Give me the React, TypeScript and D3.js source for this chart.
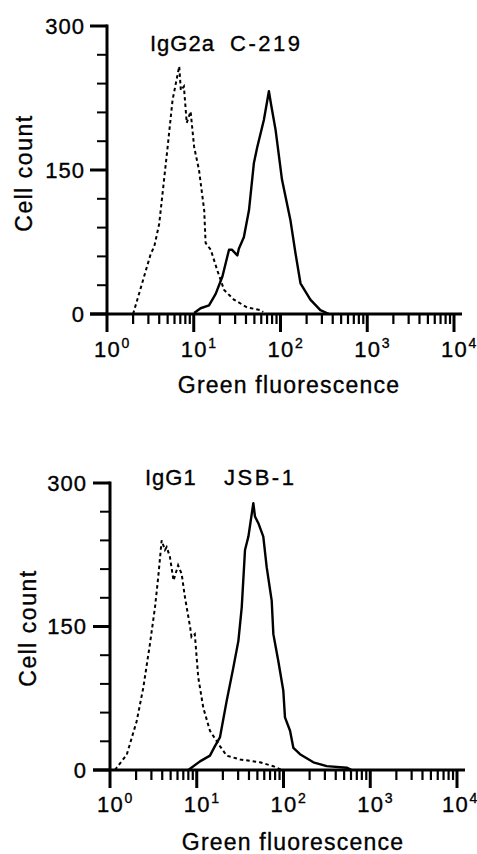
import React from "react";
import * as d3 from "d3";

// Fluorescence values (x) and cell counts (y)
const igg2aX = [2.0, 3.2, 3.5, 4.0, 5.0, 5.7, 6.8, 7.1, 7.7, 8.3, 9.2, 10.1, 11.5, 13.2, 13.7, 15.7, 18.6, 22.4, 29, 41, 59, 63];
const igg2aY = [0, 63, 70, 94, 174, 223, 258, 233, 237, 199, 211, 174, 150, 108, 74, 67, 46, 25, 15, 7, 4, 2];

const c219X = [10.1, 12, 15, 17.9, 21.4, 25.5, 27.5, 31.8, 33.1, 37.8, 43.3, 49.3, 54, 64.3, 73.5, 77.6, 87.7, 104, 130, 149, 170, 221, 288, 363];
const c219Y = [1, 6, 9, 21, 39, 67, 67, 61, 68, 80, 108, 157, 174, 202, 232, 219, 192, 140, 98, 63, 32, 15, 4, 0];

const igg1X = [1.14, 1.56, 2.03, 2.42, 2.89, 3.3, 3.6, 3.94, 4.3, 4.5, 4.9, 5.4, 6.1, 6.7, 7.3, 8.4, 8.7, 9.5, 10.4, 11.9, 14.2, 18.5, 22.1, 31.6, 53.6, 76.2, 95.5];
const igg1Y = [0, 16, 51, 86, 132, 170, 202, 240, 230, 233, 223, 198, 214, 205, 181, 149, 139, 142, 97, 65, 41, 25, 15, 11, 8, 4, 0];

const jsb1X = [8.0, 10.9, 14.2, 16.2, 18.5, 22.1, 26.4, 30.2, 33, 36, 39.4, 44.9, 46.9, 51.3, 58.5, 64, 73.1, 76.4, 87.1, 99.5, 104, 119, 130, 155, 221, 315, 536, 611];
const jsb1Y = [0, 9, 15, 25, 34, 72, 107, 135, 170, 230, 244, 279, 265, 258, 244, 212, 177, 142, 114, 83, 55, 41, 23, 16.5, 8, 4, 2.4, 0];

const yMajorTicks = [0, 150, 300];
const yMinorTicks = [30, 60, 90, 120, 180, 210, 240, 270];
const decades = [1, 10, 100, 1000, 10000];
const expLabels = ["0", "1", "2", "3", "4"];

const xAxisTitle = "Green fluorescence";
const yAxisTitle = "Cell count";

const FONT = "'Liberation Sans', Arial, Helvetica, sans-serif";
const TS = { stroke: "#000", strokeWidth: 0.35 };

type PanelProps = {
  x0: number; x1: number; yTop: number; yBot: number;
  dotX: number[]; dotY: number[]; solX: number[]; solY: number[];
  label1: string; label2: string; l1x: number; l2x: number; labelY: number;
  tickLabelY: number; titleY: number; titleX: number; yTitleX: number; yTitleY: number;
  yLabelRight: number;
};

function Panel(p: PanelProps) {
  const x = d3.scaleLog().domain([1, 10000]).range([p.x0, p.x1]);
  const y = d3.scaleLinear().domain([0, 300]).range([p.yBot, p.yTop]);
  const line = d3.line<[number, number]>().x(d => x(d[0])).y(d => y(d[1]));
  const dotPts = p.dotX.map((v, i) => [v, p.dotY[i]] as [number, number]);
  const solPts = p.solX.map((v, i) => [v, p.solY[i]] as [number, number]);
  const minor: number[] = [];
  decades.slice(0, 4).forEach(d => { for (let k = 2; k <= 9; k++) minor.push(d * k); });
  return (
    <g>
      <path d={line(dotPts) || ""} fill="none" stroke="#000" strokeWidth={2} strokeDasharray="3.5,3" />
      <path d={line(solPts) || ""} fill="none" stroke="#000" strokeWidth={2.4} strokeLinejoin="round" />
      <line x1={p.x0} x2={p.x0} y1={y(300) - 1.5} y2={y(0)} stroke="#000" strokeWidth={3} />
      {yMajorTicks.map(t => (
        <line key={"ym" + t} x1={p.x0 - 17} x2={p.x0} y1={y(t)} y2={y(t)} stroke="#000" strokeWidth={3} />
      ))}
      {yMinorTicks.map(t => (
        <line key={"yn" + t} x1={p.x0 - 10} x2={p.x0} y1={y(t)} y2={y(t)} stroke="#000" strokeWidth={2} />
      ))}
      {yMajorTicks.map(t => (
        <text key={"yl" + t} x={p.yLabelRight} y={y(t)} dy="0.36em" textAnchor="end" fontSize={22} fontFamily={FONT} letterSpacing={1} {...TS}>{t}</text>
      ))}
      <line x1={p.x0 - 17} x2={p.x1 + 8} y1={y(0)} y2={y(0)} stroke="#000" strokeWidth={3.2} />
      {decades.map(t => (
        <line key={"xm" + t} x1={x(t)} x2={x(t)} y1={y(0)} y2={y(0) + 18} stroke="#000" strokeWidth={3} />
      ))}
      {minor.map(t => (
        <line key={"xn" + t} x1={x(t)} x2={x(t)} y1={y(0)} y2={y(0) + 10} stroke="#000" strokeWidth={2.2} />
      ))}
      {decades.map((t, i) => (
        <text key={"xl" + t} x={Math.min(x(t) - 13, 442)} y={p.tickLabelY} fontSize={22} fontFamily={FONT} letterSpacing={1.2} {...TS}>
          10<tspan fontSize={14} dy={-9} dx={0.5}>{expLabels[i]}</tspan>
        </text>
      ))}
      <text x={p.titleX} y={p.titleY} textAnchor="middle" fontSize={23} fontFamily={FONT} letterSpacing={1.2} {...TS}>{xAxisTitle}</text>
      <text transform={`translate(${p.yTitleX},${p.yTitleY}) rotate(-90)`} textAnchor="middle" fontSize={23} fontFamily={FONT} letterSpacing={1.5} {...TS}>{yAxisTitle}</text>
      <text x={p.l1x} y={p.labelY} fontSize={22} fontFamily={FONT} letterSpacing={1} {...TS}>{p.label1}</text>
      <text x={p.l2x} y={p.labelY} fontSize={22} fontFamily={FONT} letterSpacing={2.5} {...TS}>{p.label2}</text>
    </g>
  );
}

export default function App() {
  return (
    <svg width={477} height={854} style={{ position: "absolute", left: 0, top: 0, background: "#fff" }}>
      <rect width={477} height={854} fill="#fff" />
      <Panel x0={107} x1={454} yTop={26} yBot={314}
        dotX={igg2aX} dotY={igg2aY} solX={c219X} solY={c219Y}
        label1="IgG2a" label2="C-219" l1x={150} l2x={230} labelY={51}
        tickLabelY={357} titleX={289} titleY={393} yTitleX={32} yTitleY={173} yLabelRight={85} />
      <Panel x0={110} x1={457} yTop={483} yBot={770}
        dotX={igg1X} dotY={igg1Y} solX={jsb1X} solY={jsb1Y}
        label1="IgG1" label2="JSB-1" l1x={145} l2x={224} labelY={485}
        tickLabelY={812} titleX={293} titleY={850} yTitleX={36} yTitleY={628} yLabelRight={87} />
    </svg>
  );
}
